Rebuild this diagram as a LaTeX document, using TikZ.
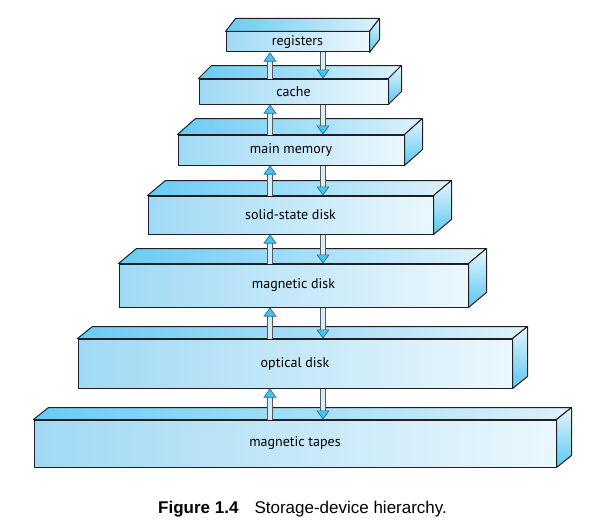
\documentclass[tikz,border=0pt]{standalone}
\usepackage{fontspec}
\setmainfont{PT Sans}
\newfontfamily\capfont{Liberation Sans}
\usetikzlibrary{arrows.meta,calc}

\definecolor{edge}{HTML}{231F20}
\definecolor{frontL}{HTML}{A0D9F4}
\definecolor{frontR}{HTML}{EAF7FD}
\definecolor{topL}{HTML}{68CCF3}
\definecolor{topR}{HTML}{DDF1FB}
\definecolor{sideT}{HTML}{E4F5FC}
\definecolor{sideB}{HTML}{5CC7F1}
\definecolor{shaft}{HTML}{D6EEF9}
\definecolor{head}{HTML}{4CC2EE}
\definecolor{headline}{HTML}{1F6F96}

\begin{document}
\begin{tikzpicture}[x=1pt,y=-1pt]
\tikzset{face/.style={draw=edge,line width=1pt,line join=round},
  box/.style={face,left color=frontL,right color=frontR,inner sep=0pt,font=\fontsize{14}{16}\selectfont},
  flow/.style={draw=gray!70!black,line width=0.7pt,double=shaft,double distance=4.2pt,
    -{Triangle[width=13pt,length=9pt,fill=head,color=headline,line width=0.7pt]}}}
\useasboundingbox (0,0) rectangle (607,527);

% the storage levels, front face first, then top and side
\foreach \n/\l/\t/\r/\b/\dx/\dy/\txt in {
  reg/226/32/369/52/10/13/registers,
  cache/199/79/388/104/13/13/cache,
  mem/178/135/404/165/18/16/main memory,
  ssd/148/196/433/234/18/15/solid-state disk,
  mdisk/119/264/468/307/18/15/magnetic disk,
  odisk/78/339/512/388/15/12/optical disk,
  tape/34/420/556/467/15/12/magnetic tapes}{
  \node[box,minimum width=\r-\l,minimum height=\b-\t] (\n) at ({(\l+\r)/2},{(\t+\b)/2}) {\txt};
  \draw[face,left color=topL,right color=topR] (\n.north west) -- ++(\dx,-\dy)
    -- ($(\n.north east)+(\dx,-\dy)$) -- (\n.north east) -- cycle;
  \draw[face,top color=sideT,bottom color=sideB] (\n.north east) -- ++(\dx,-\dy)
    -- ($(\n.south east)+(\dx,-\dy)$) -- (\n.south east) -- cycle;
}

% transfers between neighbouring levels
\coordinate (upx) at (270,0);
\coordinate (dnx) at (323,0);
\foreach \a/\b in {reg/cache,cache/mem,mem/ssd,ssd/mdisk,mdisk/odisk,odisk/tape}{
  \draw[flow] (\b.north -| upx) -- (\a.south -| upx);
  \draw[flow] (\a.south -| dnx) -- (\b.north -| dnx);
}

\node[anchor=base west,inner sep=0pt,font=\capfont\fontsize{17}{19}\selectfont] (cap) at (158,513)
  {\textbf{Figure 1.4}\hspace{16pt}Storage-device hierarchy.};
\end{tikzpicture}
\end{document}
